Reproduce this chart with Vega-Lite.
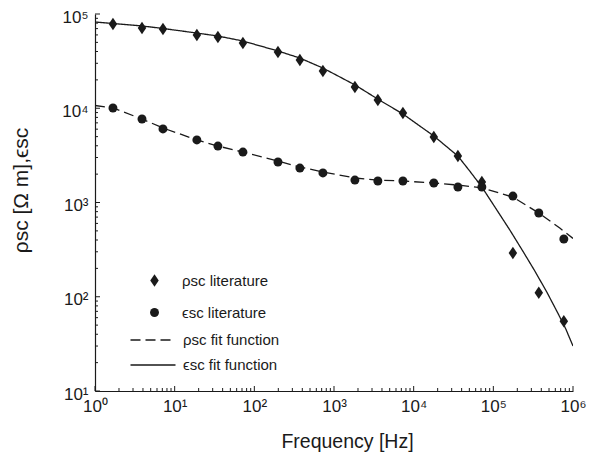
{
  "$schema": "https://vega.github.io/schema/vega-lite/v6.json",
  "autosize": {"type": "none"},
  "width": 478,
  "height": 377,
  "padding": {"left": 95, "top": 14, "right": 42, "bottom": 67},
  "background": "white",
  "config": {
    "view": {"stroke": null},
    "font": "Liberation Sans",
    "axis": {"grid": false, "domainColor": "#1a1a1a", "domainWidth": 1.2, "tickColor": "#1a1a1a", "tickWidth": 1, "labelColor": "#1a1a1a", "titleColor": "#1a1a1a", "labelFont": "Liberation Sans", "titleFont": "Liberation Sans", "labelFontSize": 17, "titleFontSize": 19.5, "titleFontWeight": "normal", "labelOverlap": false, "labelFlush": false},
    "legend": {"labelFont": "Liberation Sans", "labelFontSize": 15, "labelColor": "#1a1a1a", "padding": 0, "title": null}
  },
  "resolve": {"scale": {"x": "independent", "y": "independent"}, "axis": {"x": "independent", "y": "independent"}},
  "datasets": {
    "lit": [
      {"series": "ρsc literature", "f": 1.68, "v": 78300},
      {"series": "ρsc literature", "f": 3.89, "v": 71000},
      {"series": "ρsc literature", "f": 7.13, "v": 69300},
      {"series": "ρsc literature", "f": 19.0, "v": 59900},
      {"series": "ρsc literature", "f": 34.9, "v": 57000},
      {"series": "ρsc literature", "f": 71.9, "v": 49200},
      {"series": "ρsc literature", "f": 198, "v": 39500},
      {"series": "ρsc literature", "f": 373, "v": 32500},
      {"series": "ρsc literature", "f": 726, "v": 24800},
      {"series": "ρsc literature", "f": 1830, "v": 16800},
      {"series": "ρsc literature", "f": 3550, "v": 12200},
      {"series": "ρsc literature", "f": 7330, "v": 8910},
      {"series": "ρsc literature", "f": 17900, "v": 4960},
      {"series": "ρsc literature", "f": 35900, "v": 3110},
      {"series": "ρsc literature", "f": 71800, "v": 1650},
      {"series": "ρsc literature", "f": 176000, "v": 291},
      {"series": "ρsc literature", "f": 372000, "v": 110},
      {"series": "ρsc literature", "f": 767000, "v": 55},
      {"series": "ϵsc literature", "f": 1.68, "v": 10070},
      {"series": "ϵsc literature", "f": 3.89, "v": 7690},
      {"series": "ϵsc literature", "f": 7.13, "v": 6030},
      {"series": "ϵsc literature", "f": 19.0, "v": 4610},
      {"series": "ϵsc literature", "f": 34.9, "v": 3970},
      {"series": "ϵsc literature", "f": 71.9, "v": 3430},
      {"series": "ϵsc literature", "f": 198, "v": 2690},
      {"series": "ϵsc literature", "f": 373, "v": 2320},
      {"series": "ϵsc literature", "f": 726, "v": 2060},
      {"series": "ϵsc literature", "f": 1830, "v": 1730},
      {"series": "ϵsc literature", "f": 3550, "v": 1690},
      {"series": "ϵsc literature", "f": 7330, "v": 1690},
      {"series": "ϵsc literature", "f": 17900, "v": 1610},
      {"series": "ϵsc literature", "f": 35900, "v": 1460},
      {"series": "ϵsc literature", "f": 71800, "v": 1460},
      {"series": "ϵsc literature", "f": 176000, "v": 1170},
      {"series": "ϵsc literature", "f": 372000, "v": 774},
      {"series": "ϵsc literature", "f": 767000, "v": 410}
    ],
    "fitSolid": [
      {"series": "ϵsc fit function", "f": 1, "v": 82200}, {"series": "ϵsc fit function", "f": 1.68, "v": 79300},
      {"series": "ϵsc fit function", "f": 3.89, "v": 74700}, {"series": "ϵsc fit function", "f": 7.13, "v": 70200},
      {"series": "ϵsc fit function", "f": 19.0, "v": 62800}, {"series": "ϵsc fit function", "f": 34.9, "v": 58400},
      {"series": "ϵsc fit function", "f": 71.9, "v": 51700}, {"series": "ϵsc fit function", "f": 198, "v": 40500},
      {"series": "ϵsc fit function", "f": 373, "v": 34100}, {"series": "ϵsc fit function", "f": 726, "v": 26700},
      {"series": "ϵsc fit function", "f": 1830, "v": 17700}, {"series": "ϵsc fit function", "f": 3550, "v": 12500},
      {"series": "ϵsc fit function", "f": 7330, "v": 8690}, {"series": "ϵsc fit function", "f": 17900, "v": 5080},
      {"series": "ϵsc fit function", "f": 35900, "v": 3110}, {"series": "ϵsc fit function", "f": 50700, "v": 2150},
      {"series": "ϵsc fit function", "f": 71800, "v": 1460}, {"series": "ϵsc fit function", "f": 110700, "v": 832},
      {"series": "ϵsc fit function", "f": 161000, "v": 511}, {"series": "ϵsc fit function", "f": 234600, "v": 305},
      {"series": "ϵsc fit function", "f": 331700, "v": 187.6}, {"series": "ϵsc fit function", "f": 469000, "v": 112.2},
      {"series": "ϵsc fit function", "f": 644000, "v": 67.3}, {"series": "ϵsc fit function", "f": 812000, "v": 45.5},
      {"series": "ϵsc fit function", "f": 1000000, "v": 30}
    ],
    "fitDashed": [
      {"series": "ρsc fit function", "f": 1, "v": 10700}, {"series": "ρsc fit function", "f": 1.68, "v": 10070},
      {"series": "ρsc fit function", "f": 3.89, "v": 7690}, {"series": "ρsc fit function", "f": 7.13, "v": 6170},
      {"series": "ρsc fit function", "f": 19.0, "v": 4610}, {"series": "ρsc fit function", "f": 34.9, "v": 3970},
      {"series": "ρsc fit function", "f": 71.9, "v": 3430}, {"series": "ρsc fit function", "f": 198, "v": 2750},
      {"series": "ρsc fit function", "f": 373, "v": 2380}, {"series": "ρsc fit function", "f": 726, "v": 2110},
      {"series": "ρsc fit function", "f": 1830, "v": 1820}, {"series": "ρsc fit function", "f": 3550, "v": 1730},
      {"series": "ρsc fit function", "f": 7330, "v": 1690}, {"series": "ρsc fit function", "f": 17900, "v": 1610},
      {"series": "ρsc fit function", "f": 35900, "v": 1530}, {"series": "ρsc fit function", "f": 71800, "v": 1430},
      {"series": "ρsc fit function", "f": 176000, "v": 1140}, {"series": "ρsc fit function", "f": 372000, "v": 774},
      {"series": "ρsc fit function", "f": 682000, "v": 536}, {"series": "ρsc fit function", "f": 1000000, "v": 416}
    ],
    "xMajor": [{"f": 1}, {"f": 10}, {"f": 100}, {"f": 1000}, {"f": 10000}, {"f": 100000}, {"f": 1000000}],
    "xMinor": [{"f": 2}, {"f": 3}, {"f": 4}, {"f": 5}, {"f": 6}, {"f": 7}, {"f": 8}, {"f": 9},
      {"f": 20}, {"f": 30}, {"f": 40}, {"f": 50}, {"f": 60}, {"f": 70}, {"f": 80}, {"f": 90},
      {"f": 200}, {"f": 300}, {"f": 400}, {"f": 500}, {"f": 600}, {"f": 700}, {"f": 800}, {"f": 900},
      {"f": 2000}, {"f": 3000}, {"f": 4000}, {"f": 5000}, {"f": 6000}, {"f": 7000}, {"f": 8000}, {"f": 9000},
      {"f": 20000}, {"f": 30000}, {"f": 40000}, {"f": 50000}, {"f": 60000}, {"f": 70000}, {"f": 80000}, {"f": 90000},
      {"f": 200000}, {"f": 300000}, {"f": 400000}, {"f": 500000}, {"f": 600000}, {"f": 700000}, {"f": 800000}, {"f": 900000}],
    "yMajor": [{"v": 10}, {"v": 100}, {"v": 1000}, {"v": 10000}, {"v": 100000}],
    "yMinor": [{"v": 20}, {"v": 30}, {"v": 40}, {"v": 50}, {"v": 60}, {"v": 70}, {"v": 80}, {"v": 90},
      {"v": 200}, {"v": 300}, {"v": 400}, {"v": 500}, {"v": 600}, {"v": 700}, {"v": 800}, {"v": 900},
      {"v": 2000}, {"v": 3000}, {"v": 4000}, {"v": 5000}, {"v": 6000}, {"v": 7000}, {"v": 8000}, {"v": 9000},
      {"v": 20000}, {"v": 30000}, {"v": 40000}, {"v": 50000}, {"v": 60000}, {"v": 70000}, {"v": 80000}, {"v": 90000}]
  },
  "layer": [
    {
      "data": {"name": "fitSolid"},
      "mark": {"type": "line", "color": "#1a1a1a", "strokeWidth": 1.3, "clip": true},
      "encoding": {
        "x": {
          "field": "f", "type": "quantitative",
          "scale": {"type": "log", "domain": [1, 1000000], "nice": false},
          "axis": {
            "orient": "bottom",
            "title": "Frequency [Hz]",
            "titleX": 252, "titleY": 41, "titlePadding": 0,
            "values": [1, 10, 100, 1000, 10000, 100000, 1000000],
            "ticks": false,
            "labelPadding": 7,
            "labelExpr": "'10' + ['⁰','¹','²','³','⁴','⁵','⁶'][round(log(datum.value)/LN10)]"
          }
        },
        "y": {
          "field": "v", "type": "quantitative",
          "scale": {"type": "log", "domain": [10, 100000], "nice": false},
          "axis": {
            "orient": "left",
            "title": "ρsc [Ω m],ϵsc",
            "titleX": -64, "titleY": 176, "titleFontSize": 21, "titleAlign": "center",
            "values": [10, 100, 1000, 10000, 100000],
            "ticks": false,
            "labelPadding": 7,
            "labelOffset": 3,
            "labelExpr": "'10' + ['⁰','¹','²','³','⁴','⁵','⁶'][round(log(datum.value)/LN10)]"
          }
        },
        "strokeDash": {
          "field": "series", "type": "nominal",
          "scale": {"domain": ["ρsc fit function", "ϵsc fit function"], "range": [[10, 5], [1, 0]]},
          "legend": {
            "orient": "none", "legendX": 50.5, "legendY": 318.5,
            "symbolType": "M-5,0H5", "symbolSize": 81, "symbolStrokeWidth": 1.3,
            "symbolStrokeColor": "#1a1a1a",
            "labelOffset": 22.5, "rowPadding": 9
          }
        }
      }
    },
    {
      "data": {"name": "fitDashed"},
      "mark": {"type": "line", "color": "#1a1a1a", "strokeWidth": 1.3, "clip": true},
      "encoding": {
        "x": {"field": "f", "type": "quantitative", "scale": {"type": "log", "domain": [1, 1000000], "nice": false}, "axis": null},
        "y": {"field": "v", "type": "quantitative", "scale": {"type": "log", "domain": [10, 100000], "nice": false}, "axis": null},
        "strokeDash": {"field": "series", "type": "nominal"}
      }
    },
    {
      "data": {"name": "xMajor"},
      "mark": {"type": "tick", "orient": "vertical", "color": "#1a1a1a", "opacity": 1, "size": 5, "thickness": 1, "yOffset": -2.5},
      "encoding": {
        "x": {"field": "f", "type": "quantitative", "scale": {"type": "log", "domain": [1, 1000000], "nice": false}, "axis": null},
        "y": {"datum": 10, "type": "quantitative", "scale": {"type": "log", "domain": [10, 100000], "nice": false}, "axis": null}
      }
    },
    {
      "data": {"name": "xMinor"},
      "mark": {"type": "tick", "orient": "vertical", "color": "#1a1a1a", "opacity": 1, "size": 3, "thickness": 1, "yOffset": -1.5},
      "encoding": {
        "x": {"field": "f", "type": "quantitative", "scale": {"type": "log", "domain": [1, 1000000], "nice": false}, "axis": null},
        "y": {"datum": 10, "type": "quantitative", "scale": {"type": "log", "domain": [10, 100000], "nice": false}, "axis": null}
      }
    },
    {
      "data": {"name": "yMajor"},
      "mark": {"type": "tick", "orient": "horizontal", "color": "#1a1a1a", "opacity": 1, "size": 5, "thickness": 1, "xOffset": 2.5},
      "encoding": {
        "x": {"datum": 1, "type": "quantitative", "scale": {"type": "log", "domain": [1, 1000000], "nice": false}, "axis": null},
        "y": {"field": "v", "type": "quantitative", "scale": {"type": "log", "domain": [10, 100000], "nice": false}, "axis": null}
      }
    },
    {
      "data": {"name": "yMinor"},
      "mark": {"type": "tick", "orient": "horizontal", "color": "#1a1a1a", "opacity": 1, "size": 3, "thickness": 1, "xOffset": 1.5},
      "encoding": {
        "x": {"datum": 1, "type": "quantitative", "scale": {"type": "log", "domain": [1, 1000000], "nice": false}, "axis": null},
        "y": {"field": "v", "type": "quantitative", "scale": {"type": "log", "domain": [10, 100000], "nice": false}, "axis": null}
      }
    },
    {
      "data": {"name": "lit"},
      "mark": {"type": "point", "filled": true, "opacity": 1, "size": 80, "color": "#1a1a1a"},
      "encoding": {
        "x": {"field": "f", "type": "quantitative", "scale": {"type": "log", "domain": [1, 1000000], "nice": false}, "axis": null},
        "y": {"field": "v", "type": "quantitative", "scale": {"type": "log", "domain": [10, 100000], "nice": false}, "axis": null},
        "shape": {
          "field": "series", "type": "nominal",
          "scale": {
            "domain": ["ρsc literature", "ϵsc literature"],
            "range": ["M0,-1.4L0.95,0L0,1.4L-0.95,0Z", "circle"]
          },
          "legend": {
            "orient": "none",
            "legendX": 52,
            "legendY": 259,
            "labelOffset": 20,
            "rowPadding": 15,
            "symbolSize": 80,
            "symbolOpacity": 1,
            "symbolFillColor": "#1a1a1a"
          }
        }
      }
    }
  ]
}
